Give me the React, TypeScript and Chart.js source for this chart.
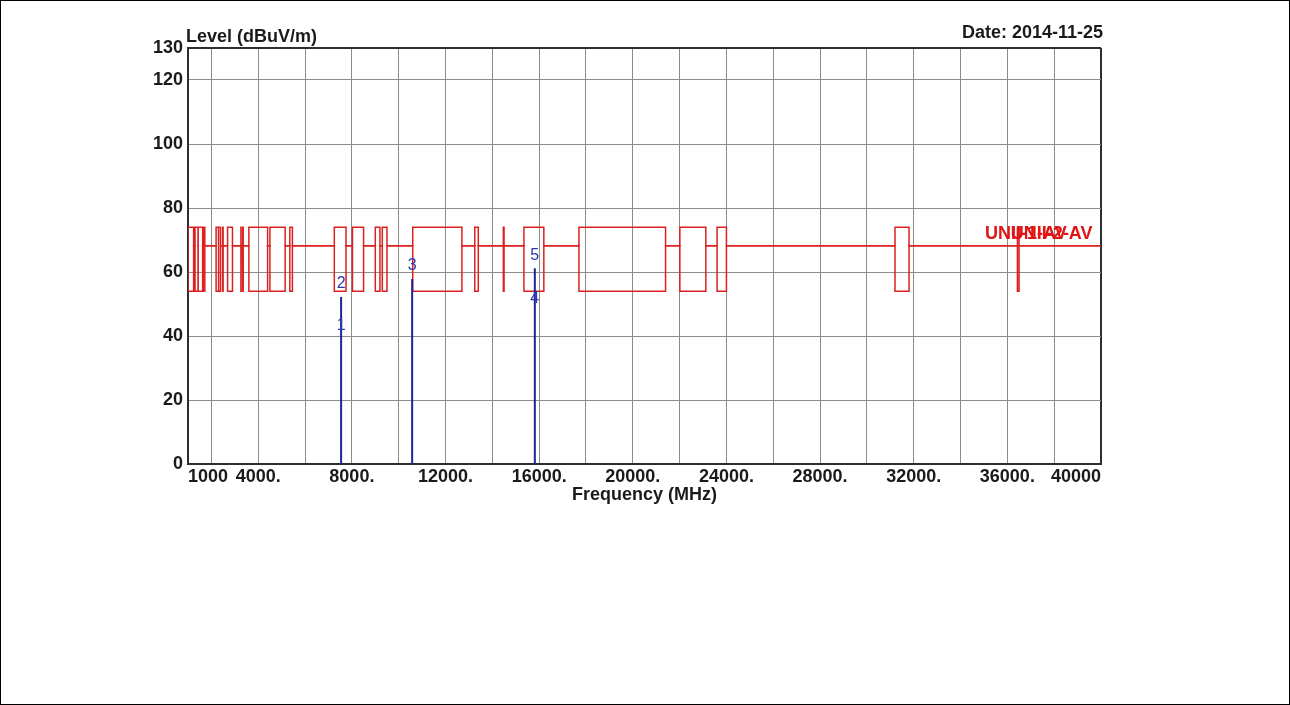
import React, { useEffect, useRef } from 'react';
import { Chart, registerables } from 'chart.js';

Chart.register(...registerables);

const FONT = "'Liberation Sans', Arial, Helvetica, sans-serif";

// Axis ranges and ticks
const X_MIN = 1000;
const X_MAX = 40000;
const Y_MIN = 0;
const Y_MAX = 130;
const xTickValues = [1000, 2000, 4000, 6000, 8000, 10000, 12000, 14000, 16000, 18000, 20000, 22000, 24000, 26000, 28000, 30000, 32000, 34000, 36000, 38000, 40000];
const xTickLabels = ['1000', '', '4000.', '', '8000.', '', '12000.', '', '16000.', '', '20000.', '', '24000.', '', '28000.', '', '32000.', '', '36000.', '', '40000'];
const yTickValues = [0, 20, 40, 60, 80, 100, 120, 130];
const yTickLabels = ['0', '20', '40', '60', '80', '100', '120', '130'];

// Texts
const yTitle = 'Level (dBuV/m)';
const xTitle = 'Frequency (MHz)';
const dateText = 'Date: 2014-11-25';

// Limit lines (dBuV/m)
const baseLimit = 68.2;
const peakLimit = 74;
const avgLimit = 54;
// Restricted bands (MHz)
const bandStart = [960, 1300, 1435, 1645.5, 1660, 1718.8, 2200, 2310, 2483.5, 2690, 3260, 3332, 3345.8, 3600, 4500, 5350, 7250, 8025, 9000, 9300, 10600, 13250, 14470, 15350, 17700, 22010, 23600, 31200, 36430];
const bandEnd = [1240, 1427, 1626.5, 1646.5, 1710, 1722.2, 2300, 2390, 2500, 2900, 3267, 3339, 3358, 4400, 5150, 5460, 7750, 8500, 9200, 9500, 12700, 13400, 14500, 16200, 21400, 23120, 24000, 31800, 36500];
const limitLabelText = ['UNII-1-AV', 'UNII-2-AV'];
const limitLabelFreq = [35050, 36150];

// Markers
const markerNo = [1, 2, 3, 4, 5];
const markerFreq = [7540, 7540, 10575, 15815, 15815];
const markerLevel = [39.2, 52.2, 57.8, 47.5, 61.2];

function buildLimit(level: number) {
  const pts: { x: number; y: number }[] = [{ x: X_MIN, y: baseLimit }];
  for (let i = 0; i < bandStart.length; i++) {
    const s = Math.max(bandStart[i], X_MIN);
    const e = bandEnd[i];
    pts.push({ x: s, y: baseLimit }, { x: s, y: level }, { x: e, y: level }, { x: e, y: baseLimit });
  }
  pts.push({ x: X_MAX, y: baseLimit });
  return pts;
}

function buildMarkers() {
  const pts: { x: number; y: number | null }[] = [];
  for (let i = 0; i < markerFreq.length; i++) {
    pts.push({ x: markerFreq[i], y: Y_MIN }, { x: markerFreq[i], y: markerLevel[i] }, { x: markerFreq[i], y: null });
  }
  return pts;
}

const textPlugin = {
  id: 'chartTexts',
  afterDraw(chart: any) {
    const { ctx, chartArea, scales } = chart;
    const x = scales.x;
    const y = scales.y;
    ctx.save();
    ctx.fillStyle = '#1a1a1a';
    ctx.font = `bold 18px ${FONT}`;
    ctx.textBaseline = 'alphabetic';
    ctx.textAlign = 'left';
    ctx.fillText(yTitle, chartArea.left - 2, 42);
    ctx.textAlign = 'right';
    ctx.fillText(dateText, chartArea.right + 2, 38);

    ctx.font = `bold 18px ${FONT}`;
    ctx.fillStyle = '#e01515';
    ctx.textAlign = 'left';
    ctx.textBaseline = 'bottom';
    limitLabelText.forEach((t, i) => {
      ctx.fillText(t, x.getPixelForValue(limitLabelFreq[i]), y.getPixelForValue(baseLimit) - 3);
    });

    ctx.font = `16px ${FONT}`;
    ctx.fillStyle = '#2a38b0';
    ctx.textAlign = 'center';
    ctx.textBaseline = 'middle';
    markerNo.forEach((n, i) => {
      ctx.fillText(String(n), x.getPixelForValue(markerFreq[i]), y.getPixelForValue(markerLevel[i]) - 13);
    });
    ctx.restore();
  },
};

export default function App() {
  const ref = useRef<HTMLCanvasElement | null>(null);

  useEffect(() => {
    document.body.style.margin = '0';
    document.body.style.overflow = 'hidden';
    const canvas = ref.current;
    if (!canvas) return;
    const dark = '#2e2e2e';
    const grid = '#8c8c8c';
    const chart = new Chart(canvas, {
      type: 'line',
      data: {
        datasets: [
          {
            label: 'Markers',
            data: buildMarkers() as any,
            borderColor: '#1d2699',
            borderWidth: 2,
            pointRadius: 0,
            spanGaps: false,
            tension: 0,
          },
          {
            label: 'Peak limit',
            data: buildLimit(peakLimit),
            borderColor: '#dc2020',
            borderWidth: 1.5,
            pointRadius: 0,
            tension: 0,
          },
          {
            label: 'Average limit',
            data: buildLimit(avgLimit),
            borderColor: '#dc2020',
            borderWidth: 1.5,
            pointRadius: 0,
            tension: 0,
          },
        ],
      },
      options: {
        responsive: false,
        animation: false,
        devicePixelRatio: 1,
        parsing: true,
        layout: { padding: { left: 128, right: 189, top: 48, bottom: 199 } },
        plugins: {
          legend: { display: false },
          tooltip: { enabled: false },
          title: { display: false },
        },
        scales: {
          x: {
            type: 'linear',
            min: X_MIN,
            max: X_MAX,
            afterBuildTicks: (s: any) => {
              s.ticks = xTickValues.map((v) => ({ value: v }));
            },
            afterFit: (s: any) => {
              s.height = 42;
            },
            ticks: {
              autoSkip: false,
              maxRotation: 0,
              minRotation: 0,
              padding: 2,
              align: 'inner',
              color: '#1a1a1a',
              font: { family: FONT, size: 18, weight: 'bold' },
              callback: (_v: any, i: number) => xTickLabels[i] ?? '',
            },
            grid: {
              drawTicks: false,
              color: (c: any) => (c.tick && (c.tick.value === X_MIN || c.tick.value === X_MAX) ? dark : grid),
              lineWidth: (c: any) => (c.tick && (c.tick.value === X_MIN || c.tick.value === X_MAX) ? 2 : 1),
            },
            border: { display: true, color: dark, width: 2 },
            title: {
              display: true,
              text: xTitle,
              color: '#1a1a1a',
              font: { family: FONT, size: 18, weight: 'bold' },
              padding: { top: 0, bottom: 0 },
            },
          },
          y: {
            type: 'linear',
            min: Y_MIN,
            max: Y_MAX,
            afterBuildTicks: (s: any) => {
              s.ticks = yTickValues.map((v) => ({ value: v }));
            },
            afterFit: (s: any) => {
              s.width = 60;
            },
            ticks: {
              autoSkip: false,
              padding: 5,
              color: '#1a1a1a',
              font: { family: FONT, size: 18, weight: 'bold' },
              callback: (_v: any, i: number) => yTickLabels[i] ?? '',
            },
            grid: {
              drawTicks: false,
              color: (c: any) => (c.tick && (c.tick.value === Y_MIN || c.tick.value === Y_MAX) ? dark : grid),
              lineWidth: (c: any) => (c.tick && (c.tick.value === Y_MIN || c.tick.value === Y_MAX) ? 2 : 1),
            },
            border: { display: true, color: dark, width: 2 },
          },
        },
      } as any,
      plugins: [textPlugin],
    });
    return () => chart.destroy();
  }, []);

  return (
    <div
      style={{
        position: 'relative',
        width: 1290,
        height: 705,
        boxSizing: 'border-box',
        border: '1px solid #000',
        background: '#fff',
      }}
    >
      <canvas
        ref={ref}
        width={1290}
        height={705}
        style={{ position: 'absolute', left: -1, top: -1, width: 1290, height: 705 }}
      />
    </div>
  );
}
